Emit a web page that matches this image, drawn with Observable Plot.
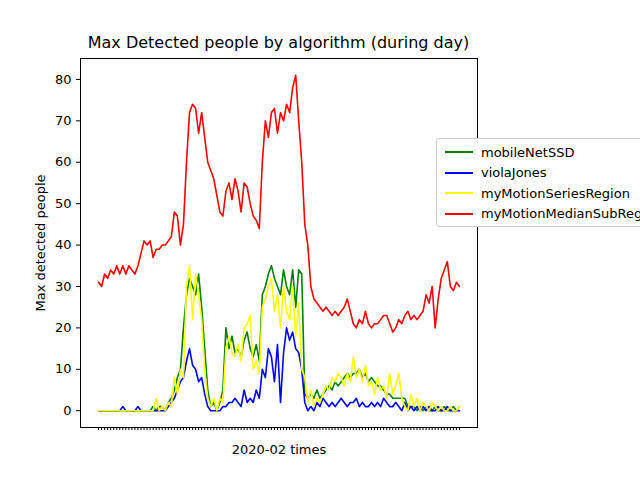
<!DOCTYPE html>
<html><head><meta charset="utf-8">
<script src="https://cdn.jsdelivr.net/npm/d3@7"></script>
<script src="https://cdn.jsdelivr.net/npm/@observablehq/plot@0.6"></script>
<style>body{margin:0;background:#fff;font-family:"DejaVu Sans",sans-serif}#c{position:relative;width:640px;height:480px;overflow:hidden}
#t{position:absolute;top:33px;left:0;width:557px;text-align:center;font-size:16px}
#lg{position:absolute;left:436px;top:138px;width:220px;height:87px;border:1px solid #ccc;border-radius:3px;background:#fff;font-size:13px}
.it{position:absolute;left:8px;height:20px;display:flex;align-items:center}.it span{display:inline-block;width:28px;height:2px;margin-right:8px}</style>
</head><body><div id="c"><div id="t">Max Detected people by algorithm (during day)</div></div>
<script>
const seriesNames=["mobileNetSSD","violaJones","myMotionSeriesRegion","myMotionMedianSubRegion"];
const colors=["green","blue","yellow","red"];
const red=[31,30,33,32,34,33,35,33,35,33,35,34,33,35,38,41,40,41,37,39,39,40,40,41,42,48,47,40,45,60,72,74,73,67,72,66,60,58,56,52,48,47,53,55,51,56,53,48,55,54,50,47,46,44,60,70,66,72,73,67,72,70,74,72,78,81,70,60,45,40,30,27,26,25,24,25,24,23,24,23,24,25,27,24,21,20,22,21,24,21,20,21,21,22,23,23,21,19,20,22,21,23,24,22,23,22,23,24,28,26,30,20,27,32,34,36,30,29,31,30];
const green=[0,0,0,0,0,0,0,0,0,0,0,0,0,0,0,0,0,0,1,0,1,1,0,2,3,5,8,10,20,28,32,30,28,33,25,15,5,1,2,0,2,5,20,15,18,14,15,13,17,19,15,13,16,12,28,30,33,35,32,30,28,34,30,28,34,25,34,33,4,3,4,3,5,3,4,5,6,5,7,6,7,8,9,8,9,9,10,8,9,7,8,7,6,6,5,4,4,3,3,3,3,3,1,1,1,0,1,0,1,0,0,1,0,0,1,0,0,1,0,1];
const yellow=[0,0,0,0,0,0,0,0,0,0,0,0,0,0,0,0,0,0,0,3,0,1,0,2,1,8,4,10,8,30,35,22,33,28,22,10,3,1,3,0,3,2,15,18,14,13,16,12,20,21,23,10,12,9,25,27,30,32,24,28,20,30,24,22,30,18,26,10,8,2,5,1,3,2,4,6,5,8,7,9,8,6,9,7,13,8,10,7,11,6,7,4,8,5,6,3,9,4,6,9,3,1,0,4,1,3,0,2,1,0,2,1,0,1,0,0,1,0,0,1];
const blue=[0,0,0,0,0,0,0,0,1,0,0,0,0,1,0,0,0,0,0,0,0,0,0,1,2,3,5,7,8,12,15,11,10,7,8,4,1,0,0,0,0,1,1,2,2,3,2,1,5,2,3,2,5,3,10,8,15,13,7,16,2,14,20,17,19,15,14,10,2,0,1,0,2,1,3,2,1,2,1,2,3,2,1,2,2,3,1,2,1,1,2,1,2,1,3,2,1,1,2,1,0,2,0,1,0,1,0,1,0,1,0,0,1,0,0,1,0,0,0,0];
const all=[green,blue,yellow,red];
const data=[];all.forEach((arr,k)=>arr.forEach((v,i)=>data.push({i,v,s:seriesNames[k]})));
const ticks=d3.range(red.length);
const p=Plot.plot({width:640,height:480,marginLeft:80,marginRight:163,marginTop:58,marginBottom:53,
 style:{fontFamily:"DejaVu Sans",fontSize:"10px"},
 x:{domain:[-5.95,124.95],ticks,tickFormat:()=>"",tickSize:3,label:"2020-02 times",labelAnchor:"center",labelArrow:"none",labelOffset:26},
 y:{domain:[-4.05,85.05],ticks:[0,10,20,30,40,50,60,70,80],tickSize:4,label:"Max detected people",labelAnchor:"center",labelArrow:"none",labelOffset:45},
 color:{domain:seriesNames,range:colors},
 marks:[Plot.frame(),Plot.line(data,{x:"i",y:"v",z:"s",stroke:"s",strokeWidth:1.6})]});
document.getElementById("c").appendChild(p);
p.style.position="absolute";p.style.left="0";p.style.top="0";
p.querySelectorAll("[aria-label='x-axis label'] text, [aria-label='y-axis label'] text").forEach(t=>t.style.fontSize="13px");
p.querySelectorAll("[aria-label='y-axis tick label'] text").forEach(t=>t.style.fontSize="13px");
const lg=document.createElement("div");lg.id="lg";
seriesNames.forEach((n,k)=>{const d=document.createElement("div");d.className="it";d.style.top=(3+k*20.5)+"px";d.innerHTML=`<span style="background:${colors[k]}"></span>${n}`;lg.appendChild(d)});
document.getElementById("c").appendChild(lg);
</script></body></html>
